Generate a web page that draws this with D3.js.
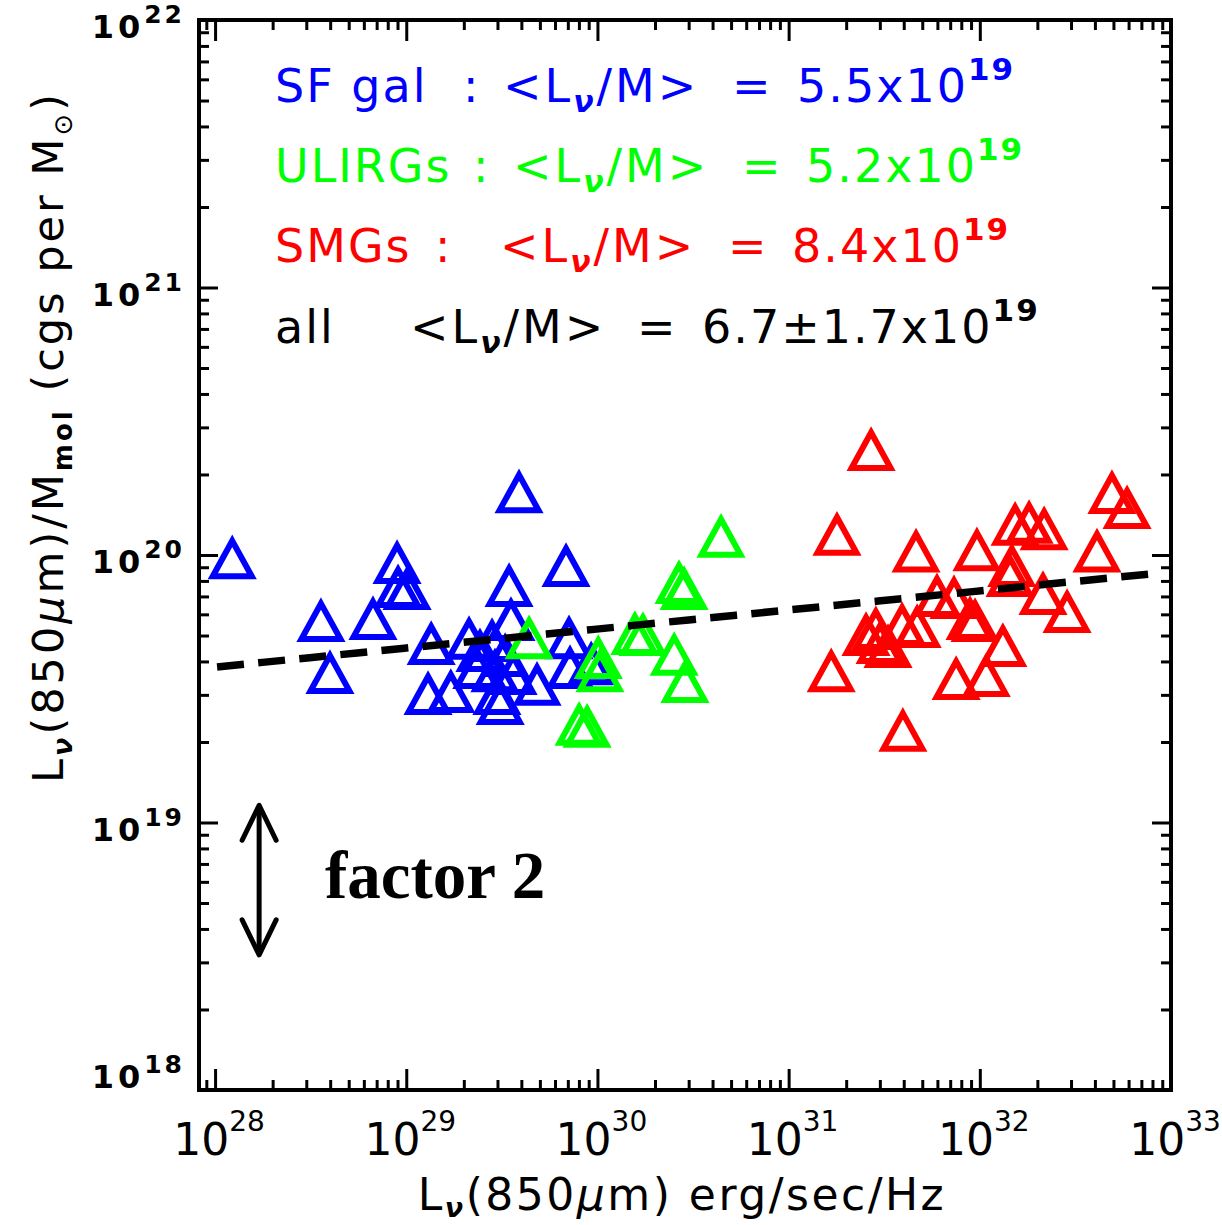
<!DOCTYPE html>
<html><head><meta charset="utf-8">
<script src="https://cdn.jsdelivr.net/npm/d3@7"></script>
<style>body{margin:0;background:#fff}</style>
</head><body>
<svg id="c" width="1222" height="1225" xmlns="http://www.w3.org/2000/svg"></svg>
<script>
// ---- data ----
const sfL = [1.23e28,3.58e28,3.99e28,6.70e28,8.95e28,9.06e28,1.01e29,3.89e29,6.85e29,3.45e29,1.35e29,1.30e29,1.71e29,2.13e29,4.83e29,7.10e29,3.53e29,2.43e29,2.81e29,2.34e29,2.91e29,2.98e29,3.10e29,3.62e29,7.19e29,9.27e29,3.29e29];
const sfR = [9.8e19,5.71e19,3.65e19,5.81e19,9.42e19,7.65e19,7.53e19,1.73e20,9.18e19,7.73e19,4.69e19,3.05e19,3.10e19,4.90e19,3.30e19,4.93e19,5.77e19,4.41e19,4.81e19,3.81e19,3.71e19,3.05e19,2.80e19,3.62e19,3.81e19,3.94e19,4.23e19];
const ulirgL = [4.39e29,1.01e30,1.03e30,1.57e30,1.73e30,2.52e30,2.87e30,2.67e30,2.84e30,4.43e30,8.02e29,8.83e29];
const ulirgR = [4.93e19,4.16e19,3.71e19,5.11e19,5.07e19,4.27e19,3.38e19,7.93e19,7.53e19,1.18e20,2.34e19,2.30e19];
const smgL = [2.70e31,1.79e31,4.64e31,9.66e31,1.67e31,3.96e31,7.52e31,1.08e32,1.32e32,5.97e31,7.33e31,8.89e31,9.44e31,2.54e31,2.86e31,3.01e31,3.31e31,3.92e31,4.70e31,1.47e32,1.44e32,1.53e32,1.81e32,2.17e32,2.14e32,2.86e32,4.10e32,4.91e32,5.89e32];
const smgR = [2.49e20,1.20e20,1.04e20,1.05e20,3.71e19,2.22e19,3.47e19,3.56e19,4.61e19,7.08e19,6.96e19,5.82e19,5.72e19,5.07e19,5.33e19,4.73e19,4.57e19,5.52e19,5.43e19,9.18e19,8.41e19,1.31e20,1.33e20,1.26e20,7.21e19,6.18e19,1.04e20,1.72e20,1.51e20];
// fit: log R = log(fitNorm) + fitSlope * (log L - 28)
const fitNorm = 3.81e19, fitSlope = 0.0712, fitRange = [1e28, 9e32];
const arrowX = 1.70e28, arrowY = [1.16e19, 3.2e18];
const xMajor = [1e28,1e29,1e30,1e31,1e32,1e33];
const xExp = ["28","29","30","31","32","33"];
const yMajor = [1e18,1e19,1e20,1e21,1e22];
const yExp = ["18","19","20","21","22"];
const legendNames = ["SF gal","ULIRGs","SMGs","all"];
const legendMeans = ["5.5","5.2","8.4","6.7±1.7"];
const legendColors = ["#0000ff","#00ff00","#ff0000","#000000"];

// ---- drawing ----
const svg = d3.select("#c");
const X0 = 199, X1 = 1171, Y0 = 20, Y1 = 1090;
const x = d3.scaleLog().domain([8.24e27, 1e33]).range([X0, X1]);
const y = d3.scaleLog().domain([1e18, 1e22]).range([Y1, Y0]);

function minors(lo, hi) {
  const out = [];
  for (let e = lo; e <= hi; e++) for (let d = 2; d <= 9; d++) out.push(d * Math.pow(10, e));
  return out;
}
const xMinor = minors(27, 32).filter(v => v >= x.domain()[0] && v <= 1e33);
const yMinor = minors(18, 21);

function axisStyle(g) {
  g.select(".domain").remove();
  g.selectAll(".tick line").attr("stroke", "#000").attr("stroke-width", 3);
  g.selectAll(".tick text").remove();
}
svg.append("g").attr("transform", `translate(0,${Y1})`).call(d3.axisBottom(x).tickValues(xMajor).tickSize(-21).tickFormat("")).call(axisStyle);
svg.append("g").attr("transform", `translate(0,${Y1})`).call(d3.axisBottom(x).tickValues(xMinor).tickSize(-10).tickFormat("")).call(axisStyle);
svg.append("g").attr("transform", `translate(0,${Y0})`).call(d3.axisTop(x).tickValues(xMajor).tickSize(-21).tickFormat("")).call(axisStyle);
svg.append("g").attr("transform", `translate(0,${Y0})`).call(d3.axisTop(x).tickValues(xMinor).tickSize(-10).tickFormat("")).call(axisStyle);
svg.append("g").attr("transform", `translate(${X0},0)`).call(d3.axisLeft(y).tickValues(yMajor).tickSize(-19).tickFormat("")).call(axisStyle);
svg.append("g").attr("transform", `translate(${X0},0)`).call(d3.axisLeft(y).tickValues(yMinor).tickSize(-10).tickFormat("")).call(axisStyle);
svg.append("g").attr("transform", `translate(${X1},0)`).call(d3.axisRight(y).tickValues(yMajor).tickSize(-19).tickFormat("")).call(axisStyle);
svg.append("g").attr("transform", `translate(${X1},0)`).call(d3.axisRight(y).tickValues(yMinor).tickSize(-10).tickFormat("")).call(axisStyle);

svg.append("rect").attr("x", X0).attr("y", Y0).attr("width", X1 - X0).attr("height", Y1 - Y0)
  .attr("fill", "none").attr("stroke", "#000").attr("stroke-width", 4);

// tick labels
const FONT = "'DejaVu Sans', sans-serif";
xMajor.forEach((v, i) => {
  const t = svg.append("text").attr("x", x(v) + 4).attr("y", 1155).attr("text-anchor", "middle")
    .attr("font-family", FONT).attr("font-size", 44).attr("fill", "#000");
  t.append("tspan").text("10");
  t.append("tspan").attr("dy", -24).attr("font-size", 28).text(xExp[i]);
});
yMajor.forEach((v, i) => {
  const off = (v === 1e18) ? -2 : 18;
  const t = svg.append("text").attr("x", 185).attr("y", y(v) + off).attr("text-anchor", "end")
    .attr("font-family", FONT).attr("font-weight", "bold").attr("font-size", 32).attr("fill", "#000");
  t.append("tspan").attr("letter-spacing", 4).text("10");
  t.append("tspan").attr("dy", -15).attr("font-size", 25).attr("letter-spacing", 3).text(yExp[i]);
});

// axis titles
const xt = svg.append("text").attr("x", 682).attr("y", 1210).attr("text-anchor", "middle")
  .attr("font-family", FONT).attr("font-size", 44).attr("letter-spacing", 2.5).attr("fill", "#000");
xt.append("tspan").text("L");
xt.append("tspan").attr("dy", 7).attr("font-size", 27).attr("font-style", "italic").attr("font-weight", "bold").text("ν");
xt.append("tspan").attr("dy", -7).text("(850");
xt.append("tspan").attr("font-style", "italic").text("μ");
xt.append("tspan").text("m) erg/sec/Hz");

const yt = svg.append("text").attr("transform", "translate(63,437) rotate(-90)").attr("text-anchor", "middle")
  .attr("font-family", FONT).attr("font-size", 43).attr("letter-spacing", 3).attr("fill", "#000");
yt.append("tspan").text("L");
yt.append("tspan").attr("dy", 9).attr("font-size", 27).attr("font-style", "italic").attr("font-weight", "bold").text("ν");
yt.append("tspan").attr("dy", -9).text("(850");
yt.append("tspan").attr("font-style", "italic").text("μ");
yt.append("tspan").text("m)/M");
yt.append("tspan").attr("dy", 9).attr("font-size", 26).attr("font-weight", "bold").text("mol");
yt.append("tspan").attr("dy", -9).text(" (cgs per M");
yt.append("tspan").attr("dy", 9).attr("font-size", 26).text("⊙");
yt.append("tspan").attr("dy", -9).text(")");

// points
const tri = "M0,-16.5L19.5,19L-19.5,19Z";
function drawSeries(L, R, color) {
  svg.append("g").selectAll("path").data(L.map((l, i) => ({l, r: R[i]}))).join("path")
    .attr("transform", d => `translate(${x(d.l)},${y(d.r)})`)
    .attr("d", tri).attr("fill", "none").attr("stroke", color).attr("stroke-width", 6);
}
drawSeries(sfL, sfR, legendColors[0]);
drawSeries(ulirgL, ulirgR, legendColors[1]);
drawSeries(smgL, smgR, legendColors[2]);

// fit line
const fitPts = d3.range(0, 21).map(i => {
  const lg = Math.log10(fitRange[0]) + i / 20 * (Math.log10(fitRange[1]) - Math.log10(fitRange[0]));
  return [Math.pow(10, lg), fitNorm * Math.pow(10, fitSlope * (lg - 28))];
});
svg.append("path").attr("d", d3.line().x(d => x(d[0])).y(d => y(d[1]))(fitPts))
  .attr("fill", "none").attr("stroke", "#000").attr("stroke-width", 7.5).attr("stroke-dasharray", "27,14.3")
  .attr("stroke-dashoffset", -2);

// legend
const nameX = [275, 275, 275, 275];
const colonX = [463, 473, 435, null];
const ltX = [503, 513, 500, 410];
const eqX = [732, 742, 728, 637];
const valX = [797, 806, 792, 702];
const baseY = [102, 182, 262, 343];
legendNames.forEach((nm, i) => {
  const g = svg.append("g").attr("font-family", FONT).attr("font-size", 46).attr("fill", legendColors[i]);
  g.append("text").attr("x", nameX[i]).attr("y", baseY[i]).attr("letter-spacing", 2).text(nm);
  if (colonX[i] !== null) g.append("text").attr("x", colonX[i]).attr("y", baseY[i]).text(":");
  const lt = g.append("text").attr("x", ltX[i]).attr("y", baseY[i]).attr("letter-spacing", 3);
  lt.append("tspan").text("<L");
  lt.append("tspan").attr("dy", 10).attr("font-size", 30).attr("font-style", "italic").attr("font-weight", "bold").text("ν");
  lt.append("tspan").attr("dy", -10).text("/M>");
  g.append("text").attr("x", eqX[i]).attr("y", baseY[i]).text("=");
  const vt = g.append("text").attr("x", valX[i]).attr("y", baseY[i]).attr("letter-spacing", 2);
  vt.append("tspan").text(legendMeans[i] + "x10");
  vt.append("tspan").attr("dy", -22).attr("font-size", 31).attr("font-weight", "bold").text("19");
});

// factor 2 arrow
const ax = x(arrowX), ayT = y(arrowY[0]), ayB = y(arrowY[1]);
const ag = svg.append("g").attr("stroke", "#000").attr("stroke-width", 5).attr("stroke-linecap", "round")
  .attr("stroke-linejoin", "round").attr("fill", "none");
ag.append("line").attr("x1", ax).attr("x2", ax).attr("y1", ayT + 2).attr("y2", ayB - 2);
ag.append("path").attr("d", `M${ax - 17},${ayT + 35}L${ax},${ayT}L${ax + 17},${ayT + 35}`);
ag.append("path").attr("d", `M${ax - 17},${ayB - 35}L${ax},${ayB}L${ax + 17},${ayB - 35}`);
svg.append("text").attr("x", 325).attr("y", 898).attr("font-family", "'Liberation Serif', 'Times New Roman', serif")
  .attr("font-weight", "bold").attr("font-size", 67).attr("fill", "#000").text("factor 2");
</script>
</body></html>
